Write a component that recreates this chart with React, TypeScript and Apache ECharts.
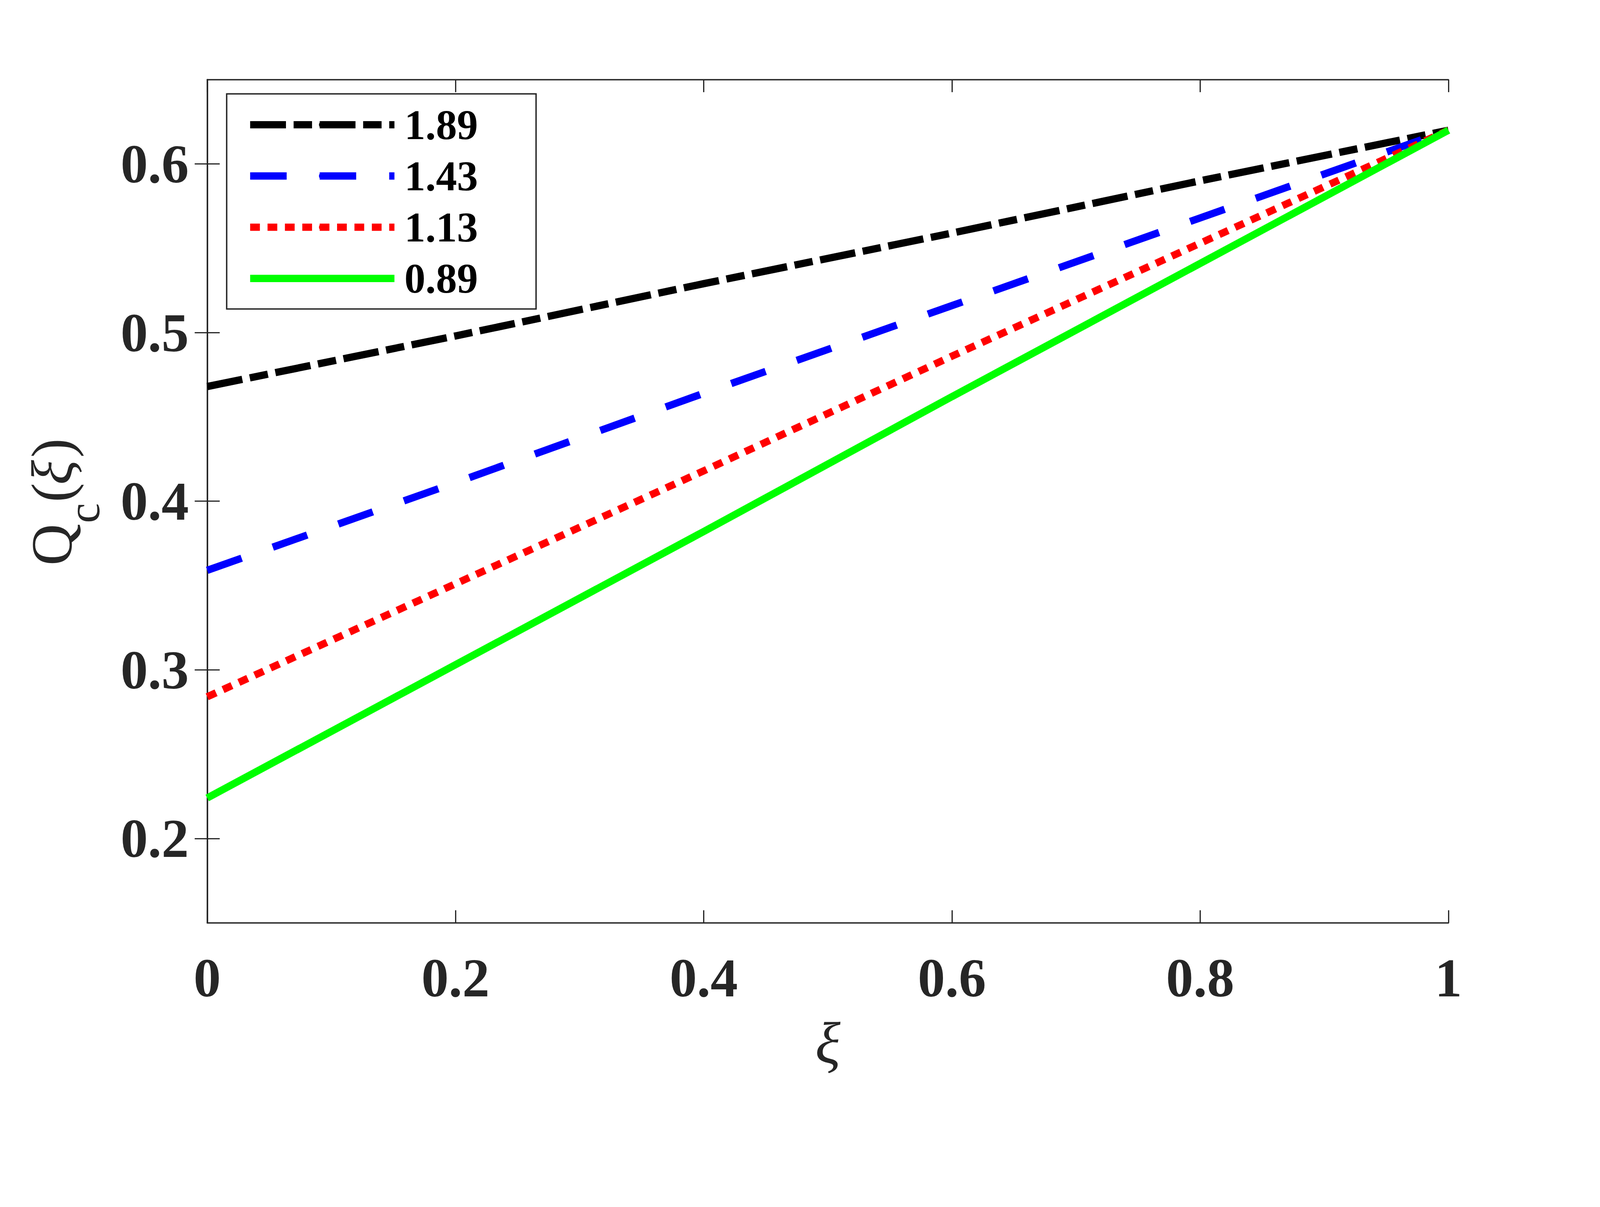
import React, { useEffect, useRef } from "react";
import * as echarts from "echarts";

const xValues = [0, 0.2, 0.4, 0.6, 0.8, 1];
const seriesNames = ["1.89", "1.43", "1.13", "0.89"];
const q189 = [0.468, 0.498, 0.529, 0.559, 0.59, 0.62];
const q143 = [0.359, 0.411, 0.464, 0.516, 0.568, 0.62];
const q113 = [0.284, 0.351, 0.418, 0.486, 0.553, 0.62];
const q089 = [0.224, 0.303, 0.382, 0.462, 0.541, 0.62];
const xTicks = [0, 0.2, 0.4, 0.6, 0.8, 1];
const yTicks = [0.2, 0.3, 0.4, 0.5, 0.6];

const AX = "#262626";
const FONT = '"Liberation Serif", "Times New Roman", serif';
const W = 4602;
const H = 3089;

function getScale() {
  if (typeof window === "undefined") return 1;
  const s = Math.min(window.innerWidth / W, window.innerHeight / H);
  return s > 0 ? s : 1;
}

export default function App() {
  const ref = useRef<HTMLDivElement>(null);
  const s = getScale();
  useEffect(() => {
    if (!ref.current) return;
    const chart = echarts.init(ref.current, undefined, { renderer: "svg" });
    const allSeries = [q189, q143, q113, q089];
    const colors = ["#000000", "#0000FF", "#FF0000", "#00FF00"];
    const sc = (a: number[]) => a.map((v) => v * s);
    const dashes: any[] = [sc([103, 22, 53, 22]), sc([105, 95]), sc([28, 22]), "solid"];
    const tickStyle = { show: true, inside: true, length: 36 * s, lineStyle: { color: AX, width: 3.5 * s } };
    const lineStyle = { show: true, lineStyle: { color: AX, width: 4 * s } };
    const fmt = (v: number) => String(parseFloat(Number(v).toFixed(2)));
    const mainFont = `normal ${166 * s}px ${FONT}`;
    chart.setOption({
      animation: false,
      backgroundColor: "#ffffff",
      grid: { left: 596 * s, right: 436 * s, top: 229 * s, bottom: 433 * s },
      legend: {
        orient: "vertical",
        left: 652 * s,
        top: 270 * s,
        data: seriesNames,
        itemWidth: 415 * s,
        itemHeight: 24 * s,
        itemGap: 26 * s,
        padding: sc([28, 167, 27, 57]),
        borderColor: AX,
        borderWidth: 4 * s,
        backgroundColor: "#ffffff",
        selectedMode: false,
        lineStyle: { width: "inherit", type: "inherit" },
        textStyle: {
          fontFamily: FONT,
          fontWeight: "bold",
          fontSize: 121 * s,
          lineHeight: 120 * s,
          color: "#000000",
          padding: sc([0, 0, 0, 23]),
        },
      },
      xAxis: [
        {
          type: "value",
          min: 0,
          max: 1,
          interval: 0.2,
          name: "ξ",
          nameLocation: "middle",
          nameGap: 260 * s,
          nameTextStyle: { fontFamily: FONT, fontStyle: "italic", fontSize: 170 * s, color: AX },
          axisLine: lineStyle,
          axisTick: tickStyle,
          splitLine: { show: false },
          axisLabel: {
            margin: 80 * s,
            fontFamily: FONT,
            fontWeight: "bold",
            fontSize: 157 * s,
            color: AX,
            formatter: fmt,
          },
        },
        {
          type: "value",
          position: "top",
          min: 0,
          max: 1,
          interval: 0.2,
          axisLine: lineStyle,
          axisTick: tickStyle,
          splitLine: { show: false },
          axisLabel: { show: false },
        },
      ],
      yAxis: [
        {
          type: "value",
          min: 0.15,
          max: 0.65,
          axisLine: lineStyle,
          axisTick: { ...tickStyle, customValues: yTicks },
          splitLine: { show: false },
          axisLabel: {
            customValues: yTicks,
            margin: 53 * s,
            fontFamily: FONT,
            fontWeight: "bold",
            fontSize: 157 * s,
            color: AX,
            formatter: fmt,
          },
        },
        {
          type: "value",
          position: "right",
          min: 0.15,
          max: 0.65,
          axisLine: lineStyle,
          axisTick: { ...tickStyle, customValues: yTicks },
          splitLine: { show: false },
          axisLabel: { show: false },
        },
      ],
      graphic: [
        {
          type: "group",
          x: 205 * s,
          y: 1626 * s,
          rotation: Math.PI / 2,
          children: [
            { type: "text", x: 0, y: -56 * s, style: { text: "Q", font: mainFont, fill: AX, textAlign: "left", textVerticalAlign: "middle" } },
            { type: "text", x: 122 * s, y: 37 * s, style: { text: "c", font: `normal ${130 * s}px ${FONT}`, fill: AX, textAlign: "left", textVerticalAlign: "middle" } },
            { type: "text", x: 182 * s, y: -56 * s, style: { text: "(", font: mainFont, fill: AX, textAlign: "left", textVerticalAlign: "middle" } },
            { type: "text", x: 232 * s, y: -56 * s, style: { text: "ξ", font: `italic ${166 * s}px ${FONT}`, fill: AX, textAlign: "left", textVerticalAlign: "middle" } },
            { type: "text", x: 310 * s, y: -56 * s, style: { text: ")", font: mainFont, fill: AX, textAlign: "left", textVerticalAlign: "middle" } },
          ],
        },
      ],
      series: allSeries.map((vals, i) => ({
        name: seriesNames[i],
        type: "line",
        xAxisIndex: 0,
        yAxisIndex: 0,
        data: xValues.map((x, j) => [x, vals[j]]),
        symbol: "none",
        showSymbol: false,
        clip: false,
        color: colors[i],
        lineStyle: { color: colors[i], width: 21 * s, type: dashes[i], cap: "butt" },
        z: 2 + i,
      })),
    });
    return () => chart.dispose();
  }, [s]);
  return (
    <div
      ref={ref}
      style={{ position: "absolute", left: 0, top: 0, width: W * s, height: H * s, background: "#fff" }}
    />
  );
}
